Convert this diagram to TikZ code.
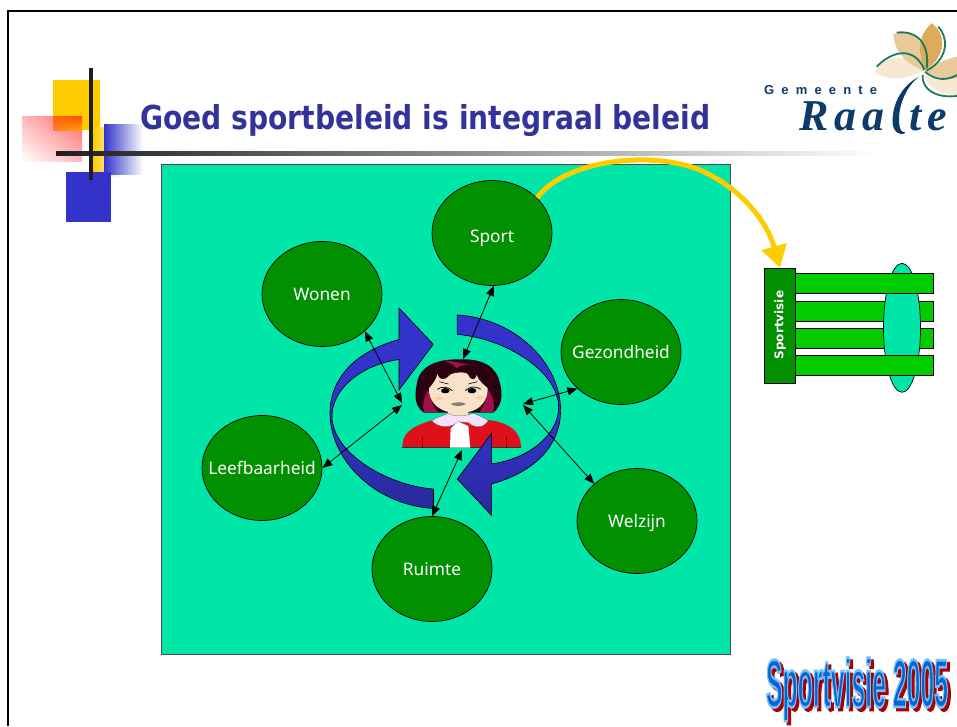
\documentclass[tikz,border=0pt]{standalone}
\usepackage{fontspec}
\setmainfont{Noto Sans}
\newfontfamily\titlefont{DejaVu Sans}
\newfontfamily\logofont[LetterSpace=55]{Liberation Sans}
\newfontfamily\raaltefont[LetterSpace=14]{Liberation Serif}
\newfontfamily\wordart[FakeBold=4]{Liberation Sans}
\usetikzlibrary{arrows.meta,shapes.geometric,shadings}
\definecolor{teal1}{HTML}{00E6A8}
\definecolor{dgreen}{HTML}{009000}
\definecolor{lgreen}{HTML}{00CC00}
\definecolor{navy1}{HTML}{333399}
\definecolor{blue1}{HTML}{3333CC}
\definecolor{blue2}{HTML}{29299C}
\definecolor{gold1}{HTML}{FFCC00}
\definecolor{logoblue}{HTML}{0B3A6B}
\definecolor{logogreen}{HTML}{1A7A5A}
\definecolor{cream1}{HTML}{F6E9D2}
\definecolor{tan1}{HTML}{E9CA9B}
\definecolor{tan2}{HTML}{DEAA5C}
\definecolor{hair1}{HTML}{2B0010}
\definecolor{hair2}{HTML}{A0104A}
\definecolor{skin1}{HTML}{F8E2C8}
\definecolor{red1}{HTML}{E0101A}
\definecolor{lav1}{HTML}{F4E0FA}
\definecolor{artfill}{HTML}{0066CC}
\definecolor{artshade}{HTML}{AA0000}
\tikzset{
  theme/.style={ellipse,draw=black,fill=dgreen,text=white,minimum width=120pt,minimum height=105pt,inner sep=-40pt,text height=13pt,text depth=0pt,line width=.7pt,font=\fontsize{17.3}{20}\selectfont},
  link/.style={{Triangle[length=10pt,width=8pt]}-{Triangle[length=10pt,width=8pt]},line width=.8pt,black},
  bar/.style={draw=black,fill=lgreen,line width=1pt},
  turn/.style={draw=black,line width=.6pt,shade,top color=blue1,bottom color=blue2,middle color=blue1},
  art/.style={inner sep=0pt,anchor=base,xscale=.365,font=\wordart\bfseries\fontsize{68}{74}\selectfont}
}
\begin{document}
\begin{tikzpicture}[x=1pt,y=-1pt]
\useasboundingbox (0,0) rectangle (957,726);
\fill[white] (0,0) rectangle (957,726);
% slide frame
\draw[black,line width=2pt] (8,726) -- (8,11) -- (957,11);
% decoration squares
\fill[gold1] (53,80) rectangle (100,130);
\shade[lower left=white,upper right=red!60!white,upper left=red!28!white,lower right=red!28!white] (22,116) rectangle (82,161);
\shade[lower left=orange!70!red!80!white,upper right=red!40!orange,upper left=orange!80!red,lower right=orange!70!yellow] (53,116) rectangle (82,130);
\shade[left color=gold1,right color=white] (93,127) rectangle (120,176);
\shade[left color=blue1,right color=white] (104,124) rectangle (143,174);
\fill[blue1] (66,172) rectangle (111,222);
\shade[left color=black!88,middle color=black!62,right color=white] (56,151) rectangle (880,155);
\fill[black!88] (89,68) rectangle (93,180);
% title
\node[anchor=base west,inner sep=0pt,text=navy1,xscale=.853,font=\titlefont\bfseries\fontsize{33}{36}\selectfont] (title) at (140,129) {Goed sportbeleid is integraal beleid};
% logo
\begin{scope}[shift={(740,0)},x=.3333pt,y=-.3333pt]
\clip (0,0) rectangle (651,480);
\fill[cream1] (550,212) .. controls (500,240) and (440,245) .. (405,215) .. controls (430,170) and (500,150) .. (550,212);
\fill[tan1] (550,212) .. controls (500,190) and (465,160) .. (460,103) .. controls (510,85) and (570,120) .. (550,212);
\fill[tan2] (555,212) .. controls (535,160) and (530,110) .. (575,70) .. controls (620,100) and (620,170) .. (555,212);
\fill[tan1] (555,212) .. controls (590,190) and (625,175) .. (651,170) -- (651,240) .. controls (620,240) and (590,235) .. (555,212);
\fill[cream1] (555,220) .. controls (570,240) and (610,240) .. (651,235) -- (651,285) .. controls (590,280) and (555,260) .. (555,220);
\draw[logogreen,line width=1.8pt] (410,200) .. controls (470,140) and (530,150) .. (553,210);
\draw[logogreen,line width=1.8pt] (470,98) .. controls (530,90) and (570,130) .. (560,205);
\draw[logogreen,line width=1.8pt] (595,80) .. controls (630,120) and (620,180) .. (560,212);
\draw[logogreen,line width=1.8pt] (555,215) .. controls (590,245) and (625,240) .. (651,225);
\draw[logogreen,line width=1.8pt] (548,225) .. controls (545,270) and (590,295) .. (651,288);
\fill[logoblue] (537,230) .. controls (480,260) and (455,320) .. (458,370) .. controls (460,395) and (480,410) .. (497,398) .. controls (478,400) and (475,370) .. (478,340) .. controls (485,290) and (510,250) .. (537,230);
\end{scope}
\node[anchor=base west,inner sep=0pt,text=logoblue,font=\logofont\bfseries\fontsize{13}{15}\selectfont] (gemeente) at (764,94) {Gemeente};
\node[anchor=base west,inner sep=0pt,text=logoblue,font=\raaltefont\bfseries\itshape\fontsize{44}{48}\selectfont] (raa) at (799,130) {Raa};
\node[anchor=base west,inner sep=0pt,text=logoblue,font=\raaltefont\bfseries\itshape\fontsize{44}{48}\selectfont] (te) at (909,130) {te};
% main panel
\fill[teal1,draw=black!70,line width=.8pt] (161.5,164) rectangle (730,654);
% themes
\node[theme,text height=19pt] (sport) at (492,233) {Sport};
\node[theme] (wonen) at (322,294) {Wonen};
\node[theme] (gezond) at (621,352) {Gezondheid};
\node[theme] (leef) at (262,468) {Leefbaarheid};
\node[theme] (welzijn) at (637,521) {Welzijn};
\node[theme] (ruimte) at (432,569) {Ruimte};
% person
\begin{scope}[shift={(320,300)},x=.3333pt,y=-.3333pt]
\fill[hair1] (420,178) .. controls (340,176) and (295,205) .. (290,255) .. controls (283,290) and (285,320) .. (312,338) -- (520,338) .. controls (548,315) and (548,280) .. (540,250) .. controls (530,200) and (490,176) .. (420,178) -- cycle;
\fill[hair2] (370,180) .. controls (410,185) and (450,195) .. (470,200) .. controls (440,190) and (420,195) .. (410,205) .. controls (405,195) and (385,188) .. (370,180);
\fill[hair2] (312,335) .. controls (305,310) and (315,285) .. (325,270) .. controls (330,300) and (340,320) .. (355,338) -- cycle;
\fill[hair2] (520,335) .. controls (525,310) and (518,285) .. (505,270) .. controls (500,300) and (490,320) .. (478,338) -- cycle;
\fill[skin1] (385,320) rectangle (445,360);
\fill[skin1] (327,265) .. controls (340,250) and (350,235) .. (352,222) .. controls (358,240) and (370,245) .. (390,225) .. controls (395,218) and (440,212) .. (445,225) .. controls (450,240) and (465,245) .. (470,225) .. controls (480,250) and (495,255) .. (503,265) .. controls (505,300) and (480,332) .. (440,337) -- (390,337) .. controls (350,330) and (325,300) .. (327,265) -- cycle;
\fill[red1] (247,443) .. controls (247,400) and (270,380) .. (340,360) -- (490,358) .. controls (570,365) and (603,395) .. (603,443) -- cycle;
\draw[black!80,line width=.4pt] (247,443) -- (603,443);
\draw[red!50!black,line width=.4pt] (308,443) -- (308,410) (560,443) -- (560,410);
\fill[lav1,draw=black!60,line width=.3pt] (335,362) .. controls (350,352) and (375,345) .. (385,340) .. controls (400,350) and (430,350) .. (460,340) .. controls (480,348) and (495,355) .. (505,362) .. controls (490,385) and (465,385) .. (445,368) -- (415,365) .. controls (395,385) and (355,385) .. (335,362) -- cycle;
\fill[white] (390,443) -- (392,385) -- (415,365) -- (445,378) -- (451,443) -- cycle;
\fill[black] (376,272) ellipse [x radius=4.3pt,y radius=2.7pt];
\fill[black] (456,272) ellipse [x radius=4.3pt,y radius=2.7pt];
\draw[black,line width=.7pt] (352,268) .. controls (365,258) and (385,260) .. (397,272);
\draw[black,line width=.7pt] (435,272) .. controls (450,258) and (470,258) .. (482,268);
\draw[black,line width=.6pt] (358,245) -- (385,252) (445,252) -- (472,245);
\fill[black!45!skin1] (392,312) .. controls (410,305) and (425,305) .. (438,312) .. controls (425,320) and (405,320) .. (392,312);
\fill[red!12!skin1] (358,295) ellipse [x radius=4pt,y radius=1.5pt];
\fill[red!12!skin1] (480,293) ellipse [x radius=4pt,y radius=1.5pt];
\end{scope}
% circular arrows
\path[turn] (399,339.5) .. controls (360,350) and (330,375) .. (330,413) .. controls (330,460) and (375,505) .. (433.5,508.5) -- (433.5,489) .. controls (385,485) and (332,452) .. (332,416) .. controls (332,390) and (360,365) .. (399,359.5) -- (399,390) -- (433.3,344.3) -- (399,308) -- cycle;
\path[turn,rotate around={180:(445.3,411.7)}] (399,339.5) .. controls (360,350) and (330,375) .. (330,413) .. controls (330,460) and (375,505) .. (433.5,508.5) -- (433.5,489) .. controls (385,485) and (332,452) .. (332,416) .. controls (332,390) and (360,365) .. (399,359.5) -- (399,390) -- (433.3,344.3) -- (399,308) -- cycle;
% links
\coordinate (pTop) at (463,359);
\coordinate (pWonen) at (402,403);
\coordinate (pLeef) at (402,405);
\coordinate (pRuimte) at (462,450);
\coordinate (pGez) at (523,404);
\coordinate (pWel) at (523,405);
\draw[link] (sport.-88) -- (pTop);
\draw[link] (wonen.-41) -- (pWonen);
\draw[link] (leef.east) -- (pLeef);
\draw[link] (ruimte.north) -- (pRuimte);
\draw[link] (gezond.220) -- (pGez);
\draw[link] (welzijn.139) -- (pWel);
% sportvisie structure
\node[bar,minimum width=138pt,minimum height=20.5pt,inner sep=0pt] (bar2) at (864,311.5) {};
\node[bar,minimum width=138pt,minimum height=20.5pt,inner sep=0pt] (bar3) at (864,338.5) {};
\node[ellipse,draw=black,fill=teal1,minimum width=37pt,minimum height=129pt,inner sep=0pt,line width=.7pt] (oval) at (902,327.8) {};
\node[bar,minimum width=138pt,minimum height=20.5pt,inner sep=0pt] (bar1) at (864,283.3) {};
\node[bar,minimum width=138pt,minimum height=20.5pt,inner sep=0pt] (bar4) at (864,365.6) {};
\node[draw=black,fill=dgreen,line width=1pt,minimum width=31pt,minimum height=115pt,inner sep=0pt] (visie) at (780,325.8) {};
\node[rotate=90,text=white,inner sep=0pt,font=\titlefont\bfseries\fontsize{12}{14}\selectfont] (visielabel) at (780,325) {Sportvisie};
% yellow arrow
\draw[gold1,line width=5pt,-{Triangle[length=22pt,width=25pt]}] (sport.38) .. controls (565,160) and (650,150) .. (700,170) .. controls (745,190) and (768,225) .. (visie.north);
% word art
\node[art,text=artshade] (artshadow) at (860,710) {\special{pdf:code 0.67 0 0 RG}Sportvisie 2005};
\node[art,text=artfill] (arttext) at (857,707) {\special{pdf:code 0.45 0.75 1 RG}Sportvisie 2005};
\end{tikzpicture}
\end{document}
